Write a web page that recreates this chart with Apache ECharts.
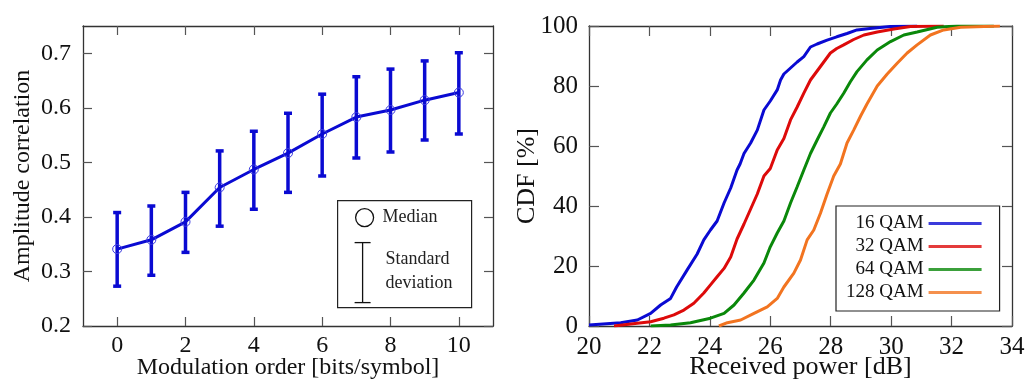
<!DOCTYPE html>
<html>
<head>
<meta charset="utf-8">
<script src="https://cdn.jsdelivr.net/npm/echarts@6/dist/echarts.min.js"></script>
<style>
  html, body { margin: 0; padding: 0; background: #fff; }
  #chart { width: 1027px; height: 380px; }
</style>
</head>
<body>
<div id="chart"></div>
<script>
// left panel: amplitude correlation vs modulation order
const modOrder = [0, 1, 2, 3, 4, 5, 6, 7, 8, 9, 10];
const median = [0.341, 0.358, 0.391, 0.454, 0.487, 0.517, 0.552, 0.583, 0.596, 0.614, 0.628];
const stdLow = [0.273, 0.293, 0.335, 0.383, 0.414, 0.445, 0.475, 0.508, 0.519, 0.541, 0.552];
const stdHigh = [0.408, 0.420, 0.445, 0.521, 0.557, 0.590, 0.625, 0.657, 0.671, 0.686, 0.701];
const modTicks = [0, 2, 4, 6, 8, 10];
const corrTicks = [0.2, 0.3, 0.4, 0.5, 0.6, 0.7];

// right panel: CDF of received power
const qamNames = ['16 QAM', '32 QAM', '64 QAM', '128 QAM'];
const qamColors = ['#0a0ad2', '#dd0a0a', '#0a880a', '#f27420'];

const power16 = [20, 21.05, 21.6, 22.04, 22.37, 22.7, 22.9, 23.25, 23.58, 23.8, 24.02, 24.24, 24.47, 24.69, 24.9, 25.0, 25.13, 25.35, 25.57, 25.79, 26.0, 26.23, 26.34, 26.45, 26.67, 26.89, 27.11, 27.33, 27.55, 27.88, 28.2, 28.54, 28.87, 29.3, 29.97, 30.86];
const cdf16 = [0.3, 1.1, 2, 4.2, 7, 9.2, 13, 18.7, 24, 28.7, 32, 35, 41, 46, 52, 54, 57.5, 61, 65.3, 72, 75, 78.7, 82, 84, 86, 88, 89.8, 93, 94, 95.3, 96.4, 97.5, 98.7, 99.2, 99.8, 100];

const power32 = [20.83, 21.38, 22.04, 22.48, 22.81, 23.14, 23.47, 23.8, 24.02, 24.24, 24.47, 24.69, 24.9, 25.13, 25.35, 25.57, 25.79, 26.0, 26.23, 26.45, 26.67, 26.89, 27.11, 27.33, 27.55, 27.77, 27.99, 28.2, 28.43, 28.76, 29.1, 29.54, 30.09, 30.64, 31.74];
const cdf32 = [0, 0.7, 1.4, 2.6, 3.7, 5.3, 7.6, 11, 13.7, 16.4, 19.2, 23, 29, 34, 39, 44, 50, 52.5, 58.7, 62.5, 68.7, 73, 77.6, 82, 85, 88, 91, 92.5, 93.7, 95.5, 97, 98, 99, 99.8, 100];

const power64 = [22.04, 22.7, 23.36, 24.02, 24.47, 24.8, 25.13, 25.46, 25.79, 26.0, 26.23, 26.45, 26.67, 26.89, 27.11, 27.33, 27.55, 27.77, 27.99, 28.2, 28.43, 28.65, 28.87, 29.2, 29.54, 29.98, 30.42, 30.86, 31.52, 32.18, 33.4];
const cdf64 = [0, 0.3, 1.1, 2.6, 4.2, 7, 11, 15.3, 21, 26.4, 31, 35, 41, 46.4, 52, 57.5, 62, 66.4, 71, 74, 77.6, 81.4, 84.8, 88.7, 92, 94.8, 97, 98, 99.6, 100, 100];

const power128 = [24.3, 24.58, 25.02, 25.46, 25.9, 26.23, 26.45, 26.78, 27.0, 27.22, 27.44, 27.66, 27.88, 28.1, 28.32, 28.54, 28.76, 28.99, 29.2, 29.54, 29.87, 30.2, 30.53, 30.86, 31.3, 31.74, 32.3, 33.6];
const cdf128 = [0, 1.1, 2, 4.2, 6.4, 9.2, 13, 17.6, 22, 28.7, 32, 37.6, 44, 50, 54, 61, 65.3, 70, 74, 80, 84, 87.6, 91, 93.7, 97, 98.7, 99.6, 100];

const powerSets = [power16, power32, power64, power128];
const cdfSets = [cdf16, cdf32, cdf64, cdf128];

const FONT = 'Liberation Serif';
const chart = echarts.init(document.getElementById('chart'));

const tickStyle = { color: '#555', width: 1.2 };

function boxAxis(extra) {
    return Object.assign({
        type: 'value',
        nameMoveOverlap: false,
        axisLine: { show: true, onZero: false, lineStyle: { color: '#333', width: 1.3 } },
        axisTick: { show: true, inside: true, length: 9, lineStyle: tickStyle },
        splitLine: { show: false },
        axisLabel: { show: false }
    }, extra);
}

const tickLabel = { show: true, color: '#111', fontFamily: FONT, fontSize: 24 };

const option = {
    animation: false,
    backgroundColor: '#fff',
    grid: [
        { left: 83, top: 26, width: 410, height: 300, outerBoundsMode: 'none' },
        { left: 589, top: 26, width: 423, height: 300, outerBoundsMode: 'none' }
    ],
    xAxis: [
        boxAxis({
            gridIndex: 0, position: 'bottom', min: -1, max: 11,
            axisTick: { show: true, inside: true, length: 9, customValues: modTicks, lineStyle: tickStyle },
            axisLabel: Object.assign({}, tickLabel, { customValues: modTicks, margin: 8 }),
            name: 'Modulation order [bits/symbol]', nameLocation: 'middle', nameGap: 30,
            nameTextStyle: { color: '#111', fontFamily: FONT, fontSize: 24 }
        }),
        boxAxis({
            gridIndex: 0, position: 'top', min: -1, max: 11,
            axisTick: { show: true, inside: true, length: 9, customValues: modTicks, lineStyle: tickStyle }
        }),
        boxAxis({
            gridIndex: 1, position: 'bottom', min: 20, max: 34, interval: 2,
            axisTick: { show: true, inside: true, length: 10, lineStyle: tickStyle },
            axisLabel: Object.assign({}, tickLabel, { fontSize: 25, margin: 9 }),
            name: 'Received power [dB]', nameLocation: 'middle', nameGap: 28,
            nameTextStyle: { color: '#111', fontFamily: FONT, fontSize: 26 }
        }),
        boxAxis({
            gridIndex: 1, position: 'top', min: 20, max: 34, interval: 2,
            axisTick: { show: true, inside: true, length: 10, lineStyle: tickStyle }
        })
    ],
    yAxis: [
        boxAxis({
            gridIndex: 0, position: 'left', min: 0.2, max: 0.75,
            axisTick: { show: true, inside: true, length: 9, customValues: corrTicks, lineStyle: tickStyle },
            axisLabel: Object.assign({}, tickLabel, { customValues: corrTicks, margin: 12, formatter: v => v.toFixed(1) }),
            name: 'Amplitude correlation', nameLocation: 'middle', nameGap: 48,
            nameTextStyle: { color: '#111', fontFamily: FONT, fontSize: 24 }
        }),
        boxAxis({
            gridIndex: 0, position: 'right', min: 0.2, max: 0.75,
            axisTick: { show: true, inside: true, length: 9, customValues: corrTicks, lineStyle: tickStyle }
        }),
        boxAxis({
            gridIndex: 1, position: 'left', min: 0, max: 100, interval: 20,
            axisTick: { show: true, inside: true, length: 10, lineStyle: tickStyle },
            axisLabel: Object.assign({}, tickLabel, { fontSize: 25, margin: 11 }),
            name: 'CDF [%]', nameLocation: 'middle', nameGap: 49,
            nameTextStyle: { color: '#111', fontFamily: FONT, fontSize: 26 }
        }),
        boxAxis({
            gridIndex: 1, position: 'right', min: 0, max: 100, interval: 20,
            axisTick: { show: true, inside: true, length: 10, lineStyle: tickStyle }
        })
    ],
    legend: {
        show: true,
        data: qamNames.map((name, k) => ({
            name,
            itemStyle: { color: qamColors[k], opacity: 0.8 }
        })),
        orient: 'vertical',
        align: 'right',
        left: 836, top: 206,
        padding: [8, 18, 9, 10],
        borderColor: '#222', borderWidth: 1.2,
        backgroundColor: '#fff',
        itemGap: 4,
        itemWidth: 53, itemHeight: 3,
        icon: 'rect',
        textStyle: { color: '#111', fontFamily: FONT, fontSize: 19 }
    },
    series: [
        {
            name: 'Standard deviation',
            type: 'custom',
            xAxisIndex: 0, yAxisIndex: 0,
            data: modOrder.map((x, i) => [x, stdLow[i], stdHigh[i]]),
            encode: { x: 0, y: [1, 2] },
            z: 2,
            renderItem: (params, api) => {
                const lo = api.coord([api.value(0), api.value(1)]);
                const hi = api.coord([api.value(0), api.value(2)]);
                const cap = 4;
                const style = { stroke: '#0a0ad2', lineWidth: 3.5 };
                return {
                    type: 'group',
                    children: [
                        { type: 'line', shape: { x1: lo[0], y1: lo[1], x2: hi[0], y2: hi[1] }, style },
                        { type: 'line', shape: { x1: lo[0] - cap, y1: lo[1], x2: lo[0] + cap, y2: lo[1] }, style },
                        { type: 'line', shape: { x1: hi[0] - cap, y1: hi[1], x2: hi[0] + cap, y2: hi[1] }, style }
                    ]
                };
            }
        },
        {
            name: 'Median',
            type: 'line',
            xAxisIndex: 0, yAxisIndex: 0,
            data: modOrder.map((x, i) => [x, median[i]]),
            symbol: 'circle', symbolSize: 9,
            z: 3,
            lineStyle: { color: '#0a0ad2', width: 3 },
            itemStyle: { color: 'rgba(0,0,0,0)', borderColor: '#3a3ae0', borderWidth: 1 }
        }
    ].concat(qamNames.map((name, k) => ({
        name,
        type: 'line',
        xAxisIndex: 2, yAxisIndex: 2,
        data: powerSets[k].map((p, i) => [p, cdfSets[k][i]]),
        showSymbol: false,
        symbol: 'none',
        z: 2 + k,
        lineStyle: { color: qamColors[k], width: 3 },
        itemStyle: { color: qamColors[k] }
    }))),
    graphic: [
        {
            type: 'group',
            left: 337, top: 200,
            children: [
                { type: 'rect', shape: { x: 0, y: 0, width: 134, height: 107 }, style: { fill: '#fff', stroke: '#222', lineWidth: 1.2 } },
                { type: 'circle', shape: { cx: 27, cy: 17, r: 9 }, style: { fill: 'none', stroke: '#111', lineWidth: 1.3 } },
                { type: 'text', x: 45, y: 17, style: { text: 'Median', fill: '#222', font: '18px ' + FONT, verticalAlign: 'middle' } },
                { type: 'line', shape: { x1: 25, y1: 42, x2: 25, y2: 102 }, style: { stroke: '#111', lineWidth: 1.3 } },
                { type: 'line', shape: { x1: 17, y1: 42, x2: 33, y2: 42 }, style: { stroke: '#111', lineWidth: 1.3 } },
                { type: 'line', shape: { x1: 17, y1: 102, x2: 33, y2: 102 }, style: { stroke: '#111', lineWidth: 1.3 } },
                { type: 'text', x: 48, y: 59, style: { text: 'Standard', fill: '#222', font: '18px ' + FONT, verticalAlign: 'middle' } },
                { type: 'text', x: 48, y: 83, style: { text: 'deviation', fill: '#222', font: '18px ' + FONT, verticalAlign: 'middle' } }
            ]
        }
    ]
};

chart.setOption(option);
</script>
</body>
</html>
